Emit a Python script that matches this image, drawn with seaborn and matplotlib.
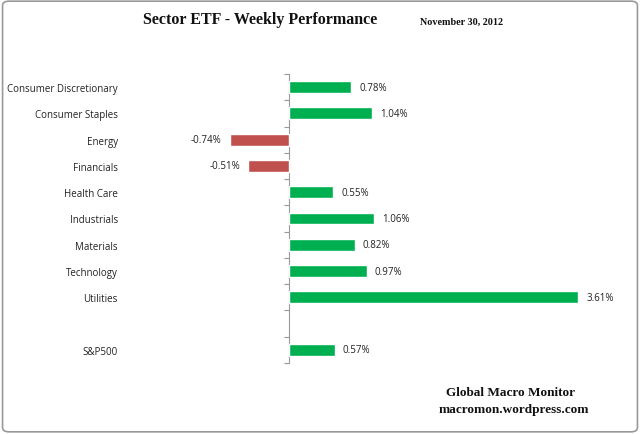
import pandas as pd
import matplotlib.pyplot as plt
import seaborn as sns
from matplotlib.patches import FancyBboxPatch

# Weekly performance data (percent)
sectors = ['Consumer Discretionary', 'Consumer Staples', 'Energy', 'Financials',
           'Health Care', 'Industrials', 'Materials', 'Technology', 'Utilities', 'S&P500']
returns = [0.78, 1.04, -0.74, -0.51, 0.55, 1.06, 0.82, 0.97, 3.61, 0.57]
# blank slot between Utilities and S&P500
order = sectors[:9] + [' '] + sectors[9:]

df = pd.DataFrame({'Sector': sectors, 'Return': returns})
green = '#00B050'
red = '#C0504D'
palette = {s: (green if r >= 0 else red) for s, r in zip(sectors, returns)}

sns.set_style('white')
plt.rcParams['font.family'] = ['Open Sans', 'DejaVu Sans']

fig = plt.figure(figsize=(6.4, 4.35), dpi=100)
ax = fig.add_axes([129 / 640, 71 / 435, 480 / 640, 289 / 435])

sns.barplot(data=df, x='Return', y='Sector', hue='Sector', order=order,
            palette=palette, dodge=False, legend=False, errorbar=None,
            width=0.45, saturation=1, ax=ax)

ax.set_xlim(-2.0, 4.0)
ax.set_ylim(len(order) - 0.5, -0.5)
for c in ax.containers:
    ax.bar_label(c, fmt='{:.2f}%', padding=6, fontsize=7, color='#222222')

for s in ax.spines.values():
    s.set_visible(False)
ax.set_xticks([])
ax.set_xlabel('')
ax.set_ylabel('')
ax.tick_params(axis='y', length=0, pad=8, labelsize=7, labelcolor='#222222')

# vertical axis line at zero with category boundary ticks
sec = ax.secondary_yaxis(2.0 / 6.0)
sec.set_yticks([i - 0.5 for i in range(len(order) + 1)])
sec.set_yticklabels([])
sec.spines['left'].set_color('#999999')
sec.tick_params(axis='y', length=3.5, color='#999999', direction='out')

fig.text(260 / 640, 1 - 20 / 435, 'Sector ETF - Weekly Performance', ha='center', va='center',
         fontsize=11.5, fontweight='bold', family='Liberation Serif', color='#111111')
fig.text(462 / 640, 1 - 22 / 435, 'November 30, 2012', ha='center', va='center',
         fontsize=7.3, fontweight='bold', family='Liberation Serif', color='#111111')
fig.text(511 / 640, 1 - 393 / 435, 'Global Macro Monitor', ha='center', va='center',
         fontsize=9.5, fontweight='bold', family='Liberation Serif', color='#111111')
fig.text(514 / 640, 1 - 410 / 435, 'macromon.wordpress.com', ha='center', va='center',
         fontsize=9.5, fontweight='bold', family='Liberation Serif', color='#111111')

fig.patches.append(FancyBboxPatch((0.004, 0.005), 0.992, 0.99, boxstyle='round,pad=0,rounding_size=0.01',
                                  transform=fig.transFigure, fill=False, edgecolor='#999999', linewidth=1.2))

fig.savefig('out.png', dpi=100)
